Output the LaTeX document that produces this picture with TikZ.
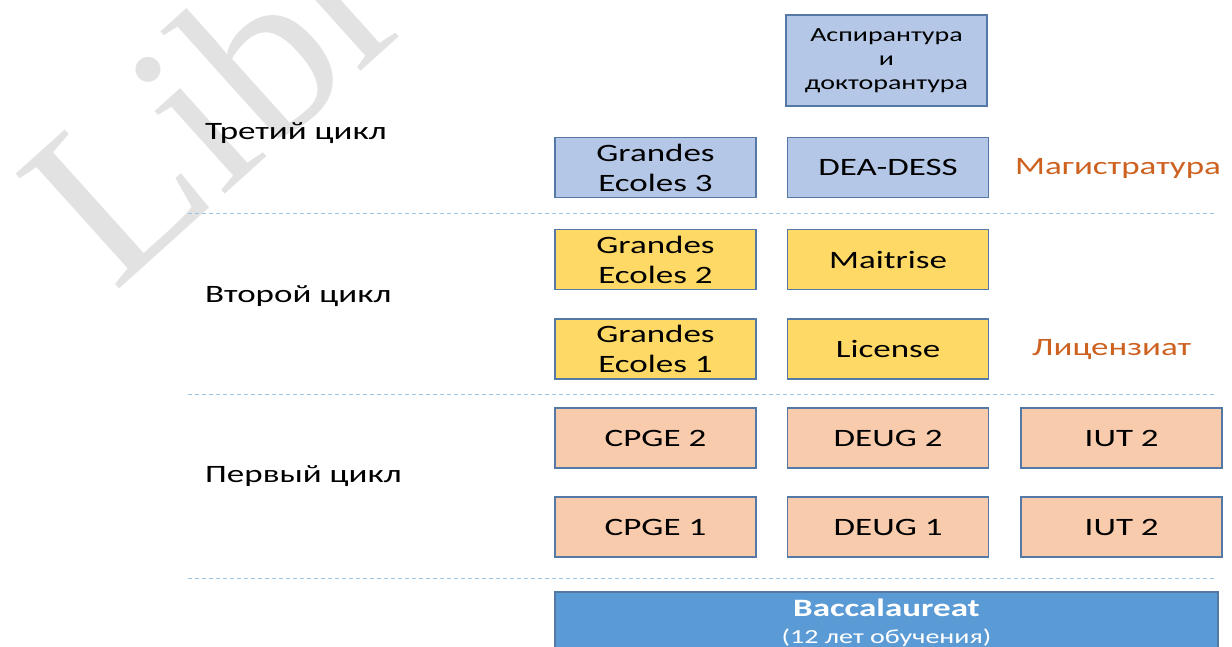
\documentclass[tikz,border=0pt]{standalone}
\usepackage{fontspec}
\setmainfont{Carlito}[FakeStretch=1.4]
\newfontfamily\wmfont{Liberation Serif}
\usetikzlibrary{positioning}

\definecolor{edgeblue}{RGB}{84,121,166}
\definecolor{topblue}{RGB}{180,199,231}
\definecolor{midyellow}{RGB}{255,217,102}
\definecolor{lowpeach}{RGB}{248,203,173}
\definecolor{bacblue}{RGB}{91,155,213}
\definecolor{degorange}{RGB}{205,97,32}
\definecolor{sepblue}{RGB}{157,195,230}
\definecolor{wmgray}{RGB}{226,226,226}

\tikzset{
  cell/.style={draw=edgeblue,line width=1.6pt,minimum width=201pt,minimum height=60pt,
    inner sep=0pt,align=center,font=\fontsize{25}{30}\selectfont},
  topcell/.style={cell,fill=topblue},
  midcell/.style={cell,fill=midyellow},
  lowcell/.style={cell,fill=lowpeach},
  cyclelabel/.style={anchor=west,inner sep=0pt,font=\fontsize{25}{30}\selectfont},
  degree/.style={anchor=west,inner sep=0pt,text=degorange,font=\fontsize{25}{30}\selectfont},
  divider/.style={sepblue,line width=1pt,dash pattern=on 4pt off 3pt}
}

\begin{document}
\begin{tikzpicture}[x=1pt,y=-1pt]
  \useasboundingbox (0,0) rectangle (1232,646);
  \clip (0,0) rectangle (1232,646);
  % watermark
  \node[anchor=base west,rotate=42,inner sep=0pt,text=wmgray,
    font=\wmfont\fontsize{236}{236}\selectfont] (mark) at (114,294) {Libre};

  % separators
  \draw[divider] (188,213) -- (1215,213);
  \draw[divider] (188,394) -- (1215,394);
  \draw[divider] (188,578) -- (1215,578);

  % cycles
  \node[cyclelabel] (third) at (205,133) {Третий цикл};
  \node[cyclelabel] (second) at (205,296) {Второй цикл};
  \node[cyclelabel] (first) at (205,476) {Первый цикл};

  % third cycle
  \node[topcell,minimum height=91pt,font=\fontsize{20}{24}\selectfont] (asp) at (886.5,60.5)
    {Аспирантура\\и\\докторантура};
  \node[topcell] (ge3) at (655.5,167.5) {Grandes\\Ecoles 3};
  \node[topcell,right=30pt of ge3] (dea) {DEA-DESS};
  \node[degree] (mag) at (1015,168) {Магистратура};

  % second cycle
  \node[midcell] (ge2) at (655.5,259.5) {Grandes\\Ecoles 2};
  \node[midcell,right=30pt of ge2] (mai) {Maitrise};
  \node[midcell] (ge1) at (655.5,349) {Grandes\\Ecoles 1};
  \node[midcell,right=30pt of ge1] (lic) {License};
  \node[degree] (licdeg) at (1032,350) {Лицензиат};

  % first cycle
  \node[lowcell] (cpge2) at (655.5,438) {CPGE 2};
  \node[lowcell,right=30pt of cpge2] (deug2) {DEUG 2};
  \node[lowcell,right=31pt of deug2] (iuta) {IUT 2};
  \node[lowcell] (cpge1) at (655.5,527) {CPGE 1};
  \node[lowcell,right=30pt of cpge1] (deug1) {DEUG 1};
  \node[lowcell,right=31pt of deug1] (iutb) {IUT 2};

  % baccalaureat
  \node[cell,fill=bacblue,text=white,anchor=north,minimum width=663pt,minimum height=62pt]
    (bac) at (886.5,591) {\bfseries Baccalaureat\\[-3pt]{\fontsize{20}{24}\selectfont (12 лет обучения)}};
\end{tikzpicture}
\end{document}
